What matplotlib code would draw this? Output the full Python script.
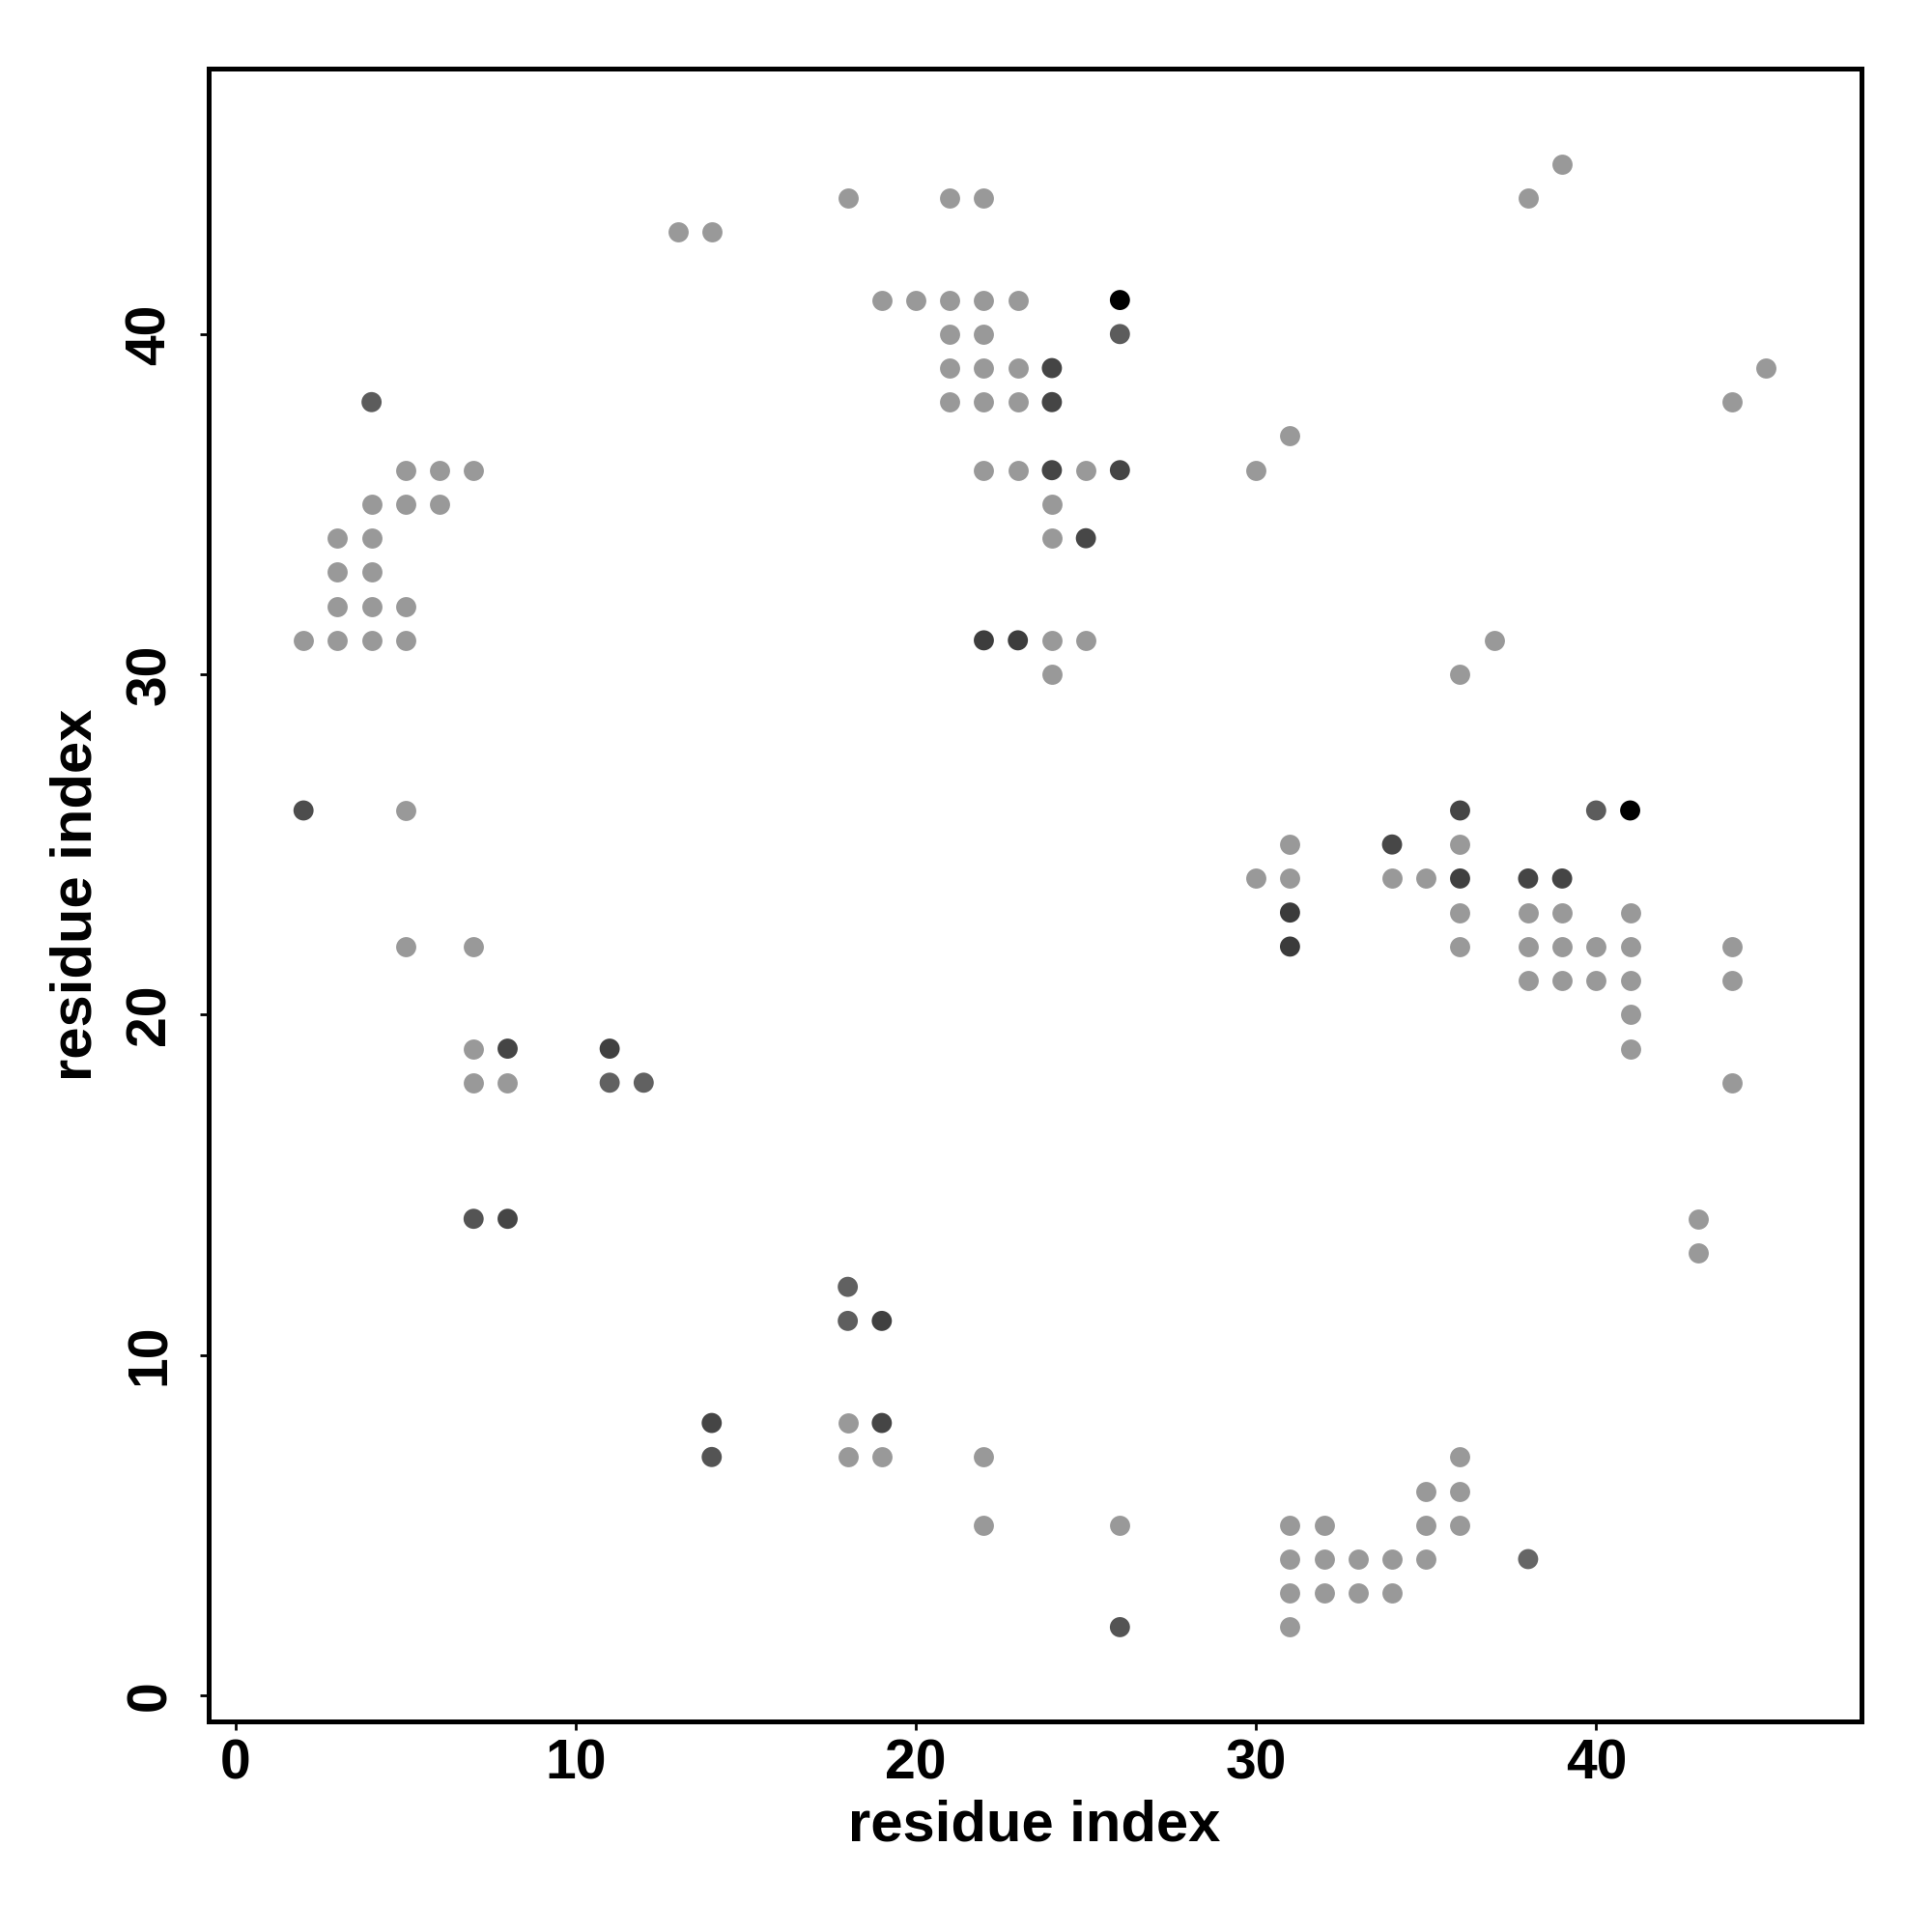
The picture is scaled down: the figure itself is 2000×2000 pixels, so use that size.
import matplotlib
matplotlib.use("Agg")
import matplotlib.pyplot as plt

# light-grey contacts
x_light = [39,
           18, 21, 22, 38,
           13, 14,
           19, 20, 21, 22, 23,
           21, 22,
           21, 22, 23, 45,
           21, 22, 23, 44,
           31,
           5, 6, 7, 22, 23, 25, 30,
           4, 5, 6, 24,
           3, 4, 24,
           3, 4,
           3, 4, 5,
           2, 3, 4, 5, 24, 25, 37,
           24, 36,
           5,
           31, 36,
           30, 31, 34, 35,
           36, 38, 39, 41,
           5, 7, 36, 38, 39, 40, 41, 44,
           38, 39, 40, 41, 44,
           41,
           7, 41,
           7, 8, 44,
           43,
           43,
           18,
           18, 19, 22, 36,
           35, 36,
           22, 26, 31, 32, 35, 36,
           31, 32, 33, 34, 35,
           31, 32, 33, 34,
           31]
y_light = [45,
           44, 44, 44, 44,
           43, 43,
           41, 41, 41, 41, 41,
           40, 40,
           39, 39, 39, 39,
           38, 38, 38, 38,
           37,
           36, 36, 36, 36, 36, 36, 36,
           35, 35, 35, 35,
           34, 34, 34,
           33, 33,
           32, 32, 32,
           31, 31, 31, 31, 31, 31, 31,
           30, 30,
           26,
           25, 25,
           24, 24, 24, 24,
           23, 23, 23, 23,
           22, 22, 22, 22, 22, 22, 22, 22,
           21, 21, 21, 21, 21,
           20,
           19, 19,
           18, 18, 18,
           14,
           13,
           8,
           7, 7, 7, 7,
           6, 6,
           5, 5, 5, 5, 5, 5,
           4, 4, 4, 4, 4,
           3, 3, 3, 3,
           2]

# darker contacts with their grey level (0 = black)
x_dark = [26, 41, 26, 40, 4, 24, 24, 24, 26, 25, 22, 23, 2, 36, 34, 36, 38, 39,
          31, 31, 8, 11, 11, 12, 7, 8, 18, 18, 19, 14, 14, 19, 38, 26]
y_dark = [41, 26, 40, 26, 38, 39, 38, 36, 36, 34, 31, 31, 26, 26, 25, 24, 24, 24,
          23, 22, 19, 19, 18, 18, 14, 14, 12, 11, 11, 8, 7, 8, 4, 2]
g_dark = [0.0, 0.0, 0.36, 0.36, 0.36, 0.27, 0.27, 0.27, 0.27, 0.28, 0.24, 0.24,
          0.30, 0.27, 0.28, 0.25, 0.27, 0.27, 0.23, 0.23, 0.27, 0.25, 0.38, 0.38,
          0.33, 0.27, 0.38, 0.37, 0.25, 0.27, 0.33, 0.27, 0.40, 0.33]

tick_vals = [0, 10, 20, 30, 40]
axis_title = "residue index"

plt.rcParams['font.family'] = ['Liberation Sans', 'DejaVu Sans']
plt.rcParams['font.weight'] = 'bold'

fig = plt.figure(figsize=(20, 20), dpi=100)
ax = fig.add_axes([0.1078, 0.109, 0.8557, 0.8553])

ms = 225
ax.scatter(x_light, y_light, s=ms, c='#999999', linewidths=0, zorder=2)
ax.scatter(x_dark, y_dark, s=ms, c=[str(g) for g in g_dark], linewidths=0, zorder=3)

ax.set_xlim(-0.8, 47.8)
ax.set_ylim(-0.77, 47.79)
ax.set_xticks(tick_vals)
ax.set_yticks(tick_vals)
ax.set_xticklabels([str(t) for t in tick_vals], fontsize=41, fontweight='bold')
ax.set_yticklabels([str(t) for t in tick_vals], fontsize=41, fontweight='bold',
                   rotation=90, va='center')
ax.tick_params(axis='both', direction='out', length=6.5, width=2.0)
ax.tick_params(axis='x', pad=6)
ax.tick_params(axis='y', pad=17)
for sp in ax.spines.values():
    sp.set_linewidth(3.6)

fig.text(1071 / 2000, 1 - 1890 / 2000, axis_title, ha='center', va='center',
         fontsize=43, fontweight='bold')
fig.text(79 / 2000, 1 - 926 / 2000, axis_title, ha='center', va='center',
         rotation=90, fontsize=43, fontweight='bold')

fig.savefig("out.png", dpi=100, facecolor='white')
